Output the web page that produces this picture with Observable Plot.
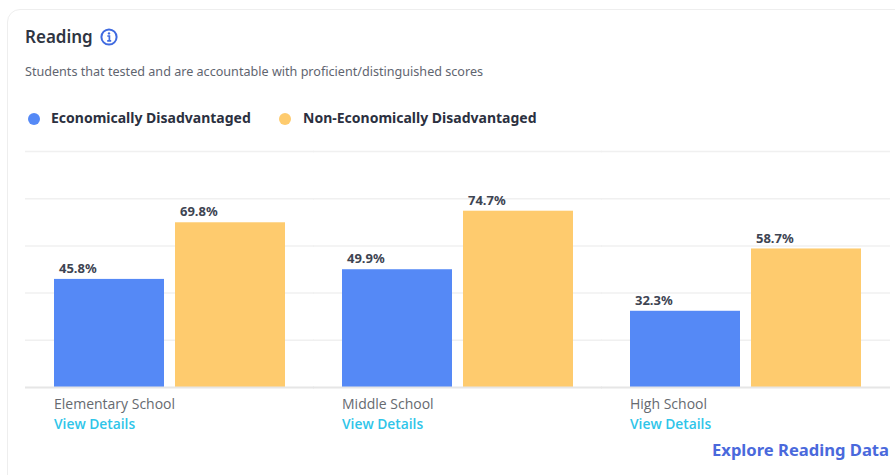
<!DOCTYPE html>
<html><head><meta charset="utf-8">
<script src="https://cdn.jsdelivr.net/npm/d3@7"></script>
<script src="https://cdn.jsdelivr.net/npm/@observablehq/plot@0.6"></script>
<style>
html,body{margin:0;padding:0;background:#fff;width:895px;height:475px;overflow:hidden;font-family:"Noto Sans",sans-serif}
.card{position:absolute;left:7px;top:9px;width:1000px;height:600px;border:1.5px solid #eeeeee;border-radius:13px;box-sizing:border-box}
.abs{position:absolute;white-space:nowrap}
#title{left:25px;top:25px;font-size:17px;font-weight:600;color:#2f3542;line-height:23px}
#sub{left:25px;top:63px;font-size:12.6px;color:#5f6570;line-height:17px}
.lg{top:108px;font-size:14px;font-weight:700;color:#2b3040;line-height:19px}
.dot{position:absolute;width:12px;height:12px;border-radius:50%;top:113px}
#explore{left:712px;top:438px;font-size:16.6px;font-weight:700;color:#4a69dc;line-height:23px}
#chart{position:absolute;left:0;top:140px}
#chart svg{display:block}
</style></head><body>
<div class="card"></div>
<div class="abs" id="title">Reading</div>
<svg class="abs" style="left:100px;top:28px" width="18" height="18" viewBox="0 0 18 18"><circle cx="9" cy="9" r="7.6" fill="none" stroke="#3f6ae0" stroke-width="2"/><circle cx="9" cy="5.4" r="1.2" fill="#3f6ae0"/><path d="M7.3 8h2.1v4.6M7.2 12.8h4" fill="none" stroke="#3f6ae0" stroke-width="1.7"/></svg>
<div class="abs" id="sub">Students that tested and are accountable with proficient/distinguished scores</div>
<div class="dot" style="left:28px;background:#5589f6"></div>
<div class="abs lg" style="left:51px">Economically Disadvantaged</div>
<div class="dot" style="left:279px;background:#fecb6e"></div>
<div class="abs lg" style="left:303px">Non-Economically Disadvantaged</div>
<div id="chart"></div>
<div class="abs" id="explore">Explore Reading Data</div>
<script>
const schools = ["Elementary School", "Middle School", "High School"];
const seriesNames = ["Economically Disadvantaged", "Non-Economically Disadvantaged"];
const economically = [45.8, 49.9, 32.3];
const nonEconomically = [69.8, 74.7, 58.7];
const gridTicks = [20, 40, 60, 80, 100];
const colors = ["#5589f6", "#fecb6e"];
const linkText = "View Details";

const rows = schools.flatMap((school, i) => [
  {school, series: seriesNames[0], value: economically[i]},
  {school, series: seriesNames[1], value: nonEconomically[i]}
]);
const first = seriesNames[0];

const plot = Plot.plot({
  width: 895, height: 300,
  marginTop: 11, marginBottom: 53, marginLeft: 24, marginRight: 5,
  style: {background: "transparent", overflow: "visible"},
  fx: {domain: schools, range: [52.6, 861.4], paddingInner: 0.199, paddingOuter: 0, axis: null, label: null},
  x: {domain: seriesNames, paddingInner: 0.095, paddingOuter: 0, axis: null, label: null},
  y: {domain: [0, 100], axis: null, label: null},
  color: {domain: seriesNames, range: colors},
  marks: [
    Plot.ruleY(gridTicks, {stroke: "#f0f0f0", strokeWidth: 1.5, insetLeft: -29, insetRight: -29}),
    Plot.barY(rows, {fx: "school", x: "series", y: "value", fill: "series"}),
    Plot.ruleY([0], {stroke: "#e6e6e6", strokeWidth: 2, insetLeft: -29, insetRight: -29}),
    Plot.text(rows, {fx: "school", x: "series", y: "value", text: d => d.value.toFixed(1) + "%",
      dx: -50.5, dy: -10.5, textAnchor: "start", fontSize: 13, fontWeight: 700, fill: "#3d4452",
      fontFamily: "Noto Sans"}),
    Plot.text(schools, {fx: d => d, x: () => first, y: () => 0, text: d => d,
      dx: -55.5, dy: 17, textAnchor: "start", fontSize: 14, fill: "#666a70",
      fontFamily: "Open Sans"}),
    Plot.text(schools, {fx: d => d, x: () => first, y: () => 0, text: () => linkText,
      dx: -55.5, dy: 37, textAnchor: "start", fontSize: 13.8, fontWeight: 600, fill: "#2fc5e9",
      fontFamily: "Open Sans"})
  ]
});
document.getElementById("chart").appendChild(plot);
</script>
</body></html>
